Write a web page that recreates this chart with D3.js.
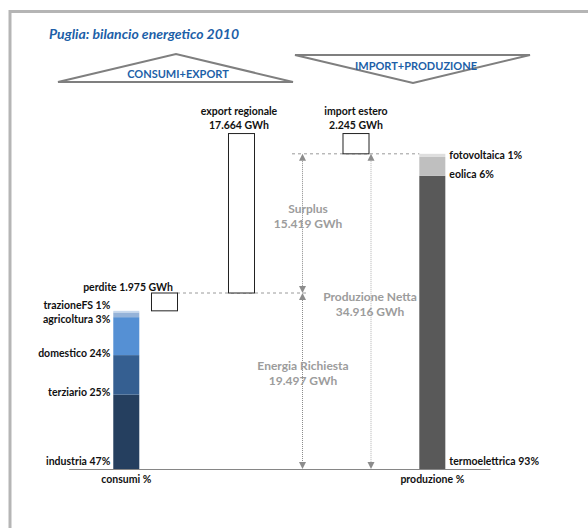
<!DOCTYPE html>
<html>
<head>
<meta charset="utf-8">
<script src="https://cdn.jsdelivr.net/npm/d3@7"></script>
<style>
  html, body { margin: 0; padding: 0; background: #fff; }
  svg { display: block; font-family: Lato, "Open Sans", sans-serif; }
</style>
</head>
<body>
<svg id="chart" width="588" height="528"></svg>
<script>
// Puglia 2010 electricity balance (GWh)
const columns = ["consumi %", "produzione %"];

const consumiLabels = ["industria", "terziario", "domestico", "agricoltura", "trazioneFS"];
const consumiShares = [47, 25, 24, 3, 1];
const consumiColors = ["#253f5f", "#355f91", "#5590d4", "#95b3d9", "#c6d8ee"];

const produzioneLabels = ["termoelettrica", "eolica", "fotovoltaica"];
const produzioneShares = [93, 6, 1];
const produzioneColors = ["#595959", "#bfbfbf", "#dedede"];

const energiaRichiesta = 19.497;
const perdite = 1.975;
const exportRegionale = 17.664;
const importEstero = 2.245;
const produzioneNetta = 34.916;
const surplus = 15.419;

// Italian thousands separator: 17.664 -> "17.664 GWh"
const gwh = v => d3.format(",")(Math.round(v * 1000)).replace(/,/g, ".") + " GWh";

const svg = d3.select("#chart");

// outer frame
svg.append("rect")
  .attr("x", 10).attr("y", 11.5).attr("width", 640).attr("height", 600)
  .attr("fill", "none").attr("stroke", "#b5b5b5").attr("stroke-width", 3);

// title
svg.append("text")
  .attr("x", 49).attr("y", 38.5)
  .attr("fill", "#1d5fa8").attr("font-size", 14)
  .attr("font-weight", 700).attr("font-style", "italic")
  .text("Puglia: bilancio energetico 2010");

// header triangles
svg.append("path")
  .attr("d", "M58,82 L176,54 L293,82 Z")
  .attr("fill", "none").attr("stroke", "#7f7f7f").attr("stroke-width", 2);
svg.append("text")
  .attr("x", 178).attr("y", 74).attr("dy", "0.35em")
  .attr("text-anchor", "middle").attr("fill", "#1d5fa8")
  .attr("font-size", 11).attr("font-weight", 700)
  .text("CONSUMI+EXPORT");

svg.append("path")
  .attr("d", "M295,55 L530,55 L413,83 Z")
  .attr("fill", "none").attr("stroke", "#7f7f7f").attr("stroke-width", 2);
svg.append("text")
  .attr("x", 416).attr("y", 66).attr("dy", "0.35em")
  .attr("text-anchor", "middle").attr("fill", "#1d5fa8")
  .attr("font-size", 11).attr("font-weight", 700)
  .text("IMPORT+PRODUZIONE");

// scales
const x = d3.scaleBand()
  .domain(columns)
  .range([68.6, 490])
  .paddingInner(0.915)
  .paddingOuter(0.146);

const y = d3.scaleLinear()
  .domain([0, 40])
  .range([469, 469 - 40 * 9.027]);

const bw = x.bandwidth();

// stacked bars built from shares of a total
function stack(labels, shares, colors, total) {
  let acc = 0;
  return labels.map((l, i) => {
    const v = total * shares[i] / 100;
    const d = { label: l, share: shares[i], color: colors[i], y0: acc, y1: acc + v };
    acc += v;
    return d;
  });
}

const consumi = stack(consumiLabels, consumiShares, consumiColors, energiaRichiesta - perdite);
const produzione = stack(produzioneLabels, produzioneShares, produzioneColors, produzioneNetta);

function drawStack(data, col) {
  svg.append("g").selectAll("rect")
    .data(data).join("rect")
    .attr("x", x(col)).attr("width", bw)
    .attr("y", d => y(d.y1))
    .attr("height", d => y(d.y0) - y(d.y1))
    .attr("fill", d => d.color);
}
drawStack(consumi, "consumi %");
drawStack(produzione, "produzione %");

// label positions: near each segment base, spread apart when crowded
function labelYs(data) {
  const ys = data.map(d => Math.min(y(d.y0) - 2, y(0) - 8));
  const gap = 14;
  for (let i = 1; i < ys.length; i++) {
    if (ys[i - 1] - ys[i] < gap) {
      const mid = (ys[i - 1] + ys[i]) / 2;
      ys[i - 1] = mid + gap / 2;
      ys[i] = mid - gap / 2;
    }
  }
  return ys;
}

const cy = labelYs(consumi);
svg.append("g").selectAll("text")
  .data(consumi).join("text")
  .attr("x", x("consumi %") - 3)
  .attr("y", (d, i) => cy[i]).attr("dy", "0.35em")
  .attr("text-anchor", "end").attr("font-size", 10.5).attr("font-weight", 700)
  .attr("fill", "#111")
  .text(d => d.label + " " + d.share + "%");

const py = labelYs(produzione);
svg.append("g").selectAll("text")
  .data(produzione).join("text")
  .attr("x", x("produzione %") + bw + 4)
  .attr("y", (d, i) => py[i]).attr("dy", "0.35em")
  .attr("text-anchor", "start").attr("font-size", 10.5).attr("font-weight", 700)
  .attr("fill", "#111")
  .text(d => d.label + " " + d.share + "%");

// flow boxes
const boxes = [
  { name: "perdite", cx: 164.5, y0: energiaRichiesta - perdite, y1: energiaRichiesta },
  { name: "export", cx: 241.5, y0: energiaRichiesta, y1: energiaRichiesta + exportRegionale },
  { name: "import", cx: 356, y0: produzioneNetta, y1: produzioneNetta + importEstero }
];

// dashed guide lines
const guide = svg.append("g").attr("stroke", "#9a9a9a").attr("stroke-width", 1)
  .attr("stroke-dasharray", "3,3");
guide.append("line")
  .attr("x1", 177).attr("x2", 308)
  .attr("y1", y(energiaRichiesta)).attr("y2", y(energiaRichiesta));
guide.append("line")
  .attr("x1", 292).attr("x2", x("produzione %"))
  .attr("y1", y(produzioneNetta)).attr("y2", y(produzioneNetta));

svg.append("g").selectAll("rect")
  .data(boxes).join("rect")
  .attr("x", d => d.cx - bw / 2).attr("width", bw)
  .attr("y", d => y(d.y1)).attr("height", d => y(d.y0) - y(d.y1))
  .attr("fill", "#fff").attr("stroke", "#222").attr("stroke-width", 1);

// box labels
svg.append("text")
  .attr("x", 173).attr("y", y(energiaRichiesta) - 6).attr("dy", "0.35em")
  .attr("text-anchor", "end").attr("font-size", 10.5).attr("font-weight", 700)
  .attr("fill", "#111")
  .text("perdite " + gwh(perdite));

function twoLine(cx, top, l1, l2) {
  const g = svg.append("g").attr("text-anchor", "middle")
    .attr("font-size", 10.5).attr("font-weight", 700).attr("fill", "#111");
  g.append("text").attr("x", cx).attr("y", top - 22).attr("dy", "0.35em").text(l1);
  g.append("text").attr("x", cx).attr("y", top - 8).attr("dy", "0.35em").text(l2);
}
twoLine(239, y(energiaRichiesta + exportRegionale), "export regionale", gwh(exportRegionale));
twoLine(356, y(produzioneNetta + importEstero), "import estero", gwh(importEstero));

// double-headed dimension arrows
function dimArrow(ax, v0, v1, color) {
  const yTop = y(v1), yBot = y(v0);
  const g = svg.append("g");
  g.append("line")
    .attr("x1", ax).attr("x2", ax).attr("y1", yTop + 5).attr("y2", yBot - 5)
    .attr("stroke", color).attr("stroke-width", 1).attr("stroke-dasharray", "1,1");
  g.append("path")
    .attr("d", `M${ax},${yTop} L${ax - 3.5},${yTop + 7} L${ax + 3.5},${yTop + 7} Z`)
    .attr("fill", "#8c8c8c");
  g.append("path")
    .attr("d", `M${ax},${yBot} L${ax - 3.5},${yBot - 7} L${ax + 3.5},${yBot - 7} Z`)
    .attr("fill", "#8c8c8c");
}
dimArrow(302.5, energiaRichiesta, produzioneNetta, "#8c8c8c");
dimArrow(302.5, 0, energiaRichiesta, "#8c8c8c");
dimArrow(371, 0, produzioneNetta, "#b0b0b0");

function grayLabel(cx, v0, v1, l1, l2) {
  const mid = (y(v0) + y(v1)) / 2;
  const g = svg.append("g").attr("text-anchor", "middle")
    .attr("font-size", 12).attr("font-weight", 700).attr("fill", "#9c9c9c");
  g.append("text").attr("x", cx).attr("y", mid - 15).attr("dy", "0.35em").text(l1);
  g.append("text").attr("x", cx).attr("y", mid + 0).attr("dy", "0.35em").text(l2);
}
grayLabel(308, energiaRichiesta, produzioneNetta, "Surplus", gwh(surplus));
grayLabel(303, 0, energiaRichiesta, "Energia Richiesta", gwh(energiaRichiesta));
grayLabel(370, 0, produzioneNetta, "Produzione Netta", gwh(produzioneNetta));

// category axis
const axis = svg.append("g")
  .attr("transform", `translate(0,${y(0)})`)
  .call(d3.axisBottom(x).tickSize(0).tickPadding(7));
axis.select(".domain").attr("stroke", "#868686").attr("stroke-width", 1.2);
axis.selectAll("text")
  .attr("font-family", "Lato, 'Open Sans', sans-serif")
  .attr("font-size", 10.5).attr("font-weight", 700).attr("fill", "#111");
</script>
</body>
</html>
